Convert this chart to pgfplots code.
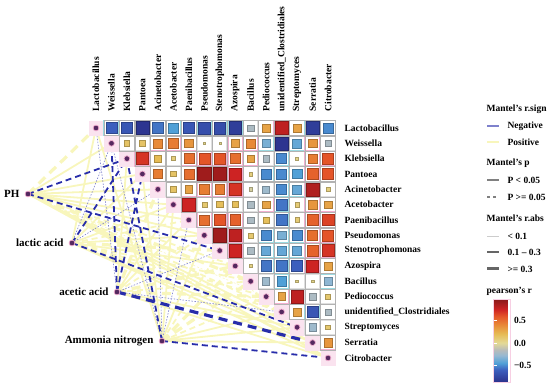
\documentclass[border=0pt]{standalone}
\usepackage{pgfplots}
\pgfplotsset{compat=1.18}
\usepackage{pgfplotstable}
\usepackage{fontspec}
\setmainfont{Liberation Serif}
\usetikzlibrary{calc}

\definecolor{yel}{RGB}{248,246,188}
\definecolor{blu}{RGB}{40,45,170}
\definecolor{pinkF}{RGB}{242,175,208}
\definecolor{cyanF}{RGB}{155,218,225}
\definecolor{dotc}{RGB}{85,40,95}
\newcommand{\lab}{\bfseries\fontsize{9.5}{11}\selectfont}
\newcommand{\envlab}{\bfseries\fontsize{11}{13}\selectfont}

\pgfplotstableread{
i j v k
0 1 -0.60 n
0 2 -0.65 n
0 3 -0.85 n
0 4 -0.55 n
0 5 -0.45 n
0 6 -0.65 n
0 7 -0.70 n
0 8 -0.70 n
0 9 -0.80 n
0 10 -0.20 z
0 11 0.30 p
0 12 0.80 p
0 13 0.30 p
0 14 -0.80 n
0 15 -0.50 n
1 2 0.15 z
1 3 0.15 z
1 4 0.40 p
1 5 0.45 p
1 6 0.35 p
1 7 0.03 z
1 8 0.02 z
1 9 0.30 p
1 10 0.40 p
1 11 -0.35 n
1 12 -0.85 n
1 13 -0.40 n
1 14 0.35 p
1 15 -0.20 z
2 3 0.70 p
2 4 0.20 z
2 5 0.08 z
2 6 0.50 p
2 7 0.60 p
2 8 0.60 p
2 9 0.50 p
2 10 0.30 p
2 11 -0.20 z
2 12 -0.50 n
2 13 0.04 z
2 14 0.45 p
2 15 0.60 p
3 4 0.45 p
3 5 0.15 z
3 6 0.50 p
3 7 0.90 p
3 8 0.90 p
3 9 0.75 p
3 10 0.07 z
3 11 -0.50 n
3 12 -0.50 n
3 13 -0.45 n
3 14 0.55 p
3 15 0.60 p
4 5 0.15 z
4 6 0.30 p
4 7 0.45 p
4 8 0.45 p
4 9 0.70 p
4 10 -0.05 z
4 11 -0.25 z
4 12 -0.50 n
4 13 -0.40 n
4 14 0.85 p
4 15 0.07 z
5 6 0.75 p
5 7 0.12 z
5 8 0.18 z
5 9 0.18 z
5 10 -0.20 z
5 11 0.30 p
5 12 -0.55 n
5 13 0.10 z
5 14 0.35 p
5 15 0.30 p
6 7 0.50 p
6 8 0.60 p
6 9 0.55 p
6 10 -0.20 z
6 11 0.18 z
6 12 -0.55 n
6 13 0.10 z
6 14 0.55 p
6 15 0.65 p
7 8 0.90 p
7 9 0.80 p
7 10 0.12 z
7 11 -0.50 n
7 12 -0.35 n
7 13 -0.50 n
7 14 0.50 p
7 15 0.60 p
8 9 0.75 p
8 10 -0.20 z
8 11 -0.40 n
8 12 -0.40 n
8 13 -0.40 n
8 14 0.55 p
8 15 0.70 p
9 10 0.05 z
9 11 -0.55 n
9 12 -0.55 n
9 13 -0.60 n
9 14 0.75 p
9 15 0.30 p
10 11 -0.25 z
10 12 -0.45 n
10 13 0.04 z
10 14 0.04 z
10 15 -0.30 n
11 12 0.30 p
11 13 0.80 p
11 14 -0.20 z
11 15 0.12 z
12 13 0.30 p
12 14 -0.65 n
12 15 -0.20 z
13 14 -0.25 z
13 15 0.12 z
14 15 0.35 p
}\heat

\pgfplotstableread{
k d
0 0
1 1
2 2
3 3
4 4
5 5
6 6
7 7
8 8
9 9
10 10
11 11
12 12
13 13
14 14
15 15
}\diag

\begin{document}
\begin{tikzpicture}
\begin{axis}[
  scale only axis, width=550pt, height=387pt,
  xmin=0, xmax=550, ymin=0, ymax=387, y dir=reverse,
  hide axis, clip=false, enlargelimits=false,
  unbounded coords=jump,
  colormap={rdyl}{rgb255(0pt)=(44,50,140); rgb255(27pt)=(60,95,190); rgb255(42pt)=(80,160,215); rgb255(59pt)=(150,185,210); rgb255(72pt)=(185,188,185); rgb255(87pt)=(228,218,150); rgb255(107pt)=(230,188,85); rgb255(127pt)=(232,138,55); rgb255(147pt)=(228,85,40); rgb255(162pt)=(205,35,35); rgb255(185pt)=(135,25,25)},
  point meta min=-0.87, point meta max=0.98,
  colorbar,
  colorbar style={
    at={($(parent axis.south west)+(485pt,5pt)$)}, anchor=south west,
    width=17pt, height=83pt,
    ytick={-0.5,0,0.5}, yticklabels={−0.5,0.0,0.5},
    yticklabel style={font=\lab},
    major tick length=3pt, tick style={white, line width=0.6pt},
    axis line style={draw=pinkF!60, line width=0.5pt},
  },
]
% invisible frame for bounding box
\addplot[draw=none] coordinates {(0,0) (550,387)};

% ---------- Mantel links ----------
% positive, medium, solid
\addplot[yel, line width=1.8pt] coordinates {
(28,194) (111.5,143.3) (nan,nan)
(28,194) (142.4,174.0) (nan,nan)
(28,194) (157.9,189.3) (nan,nan)
(28,194) (173.4,204.7) (nan,nan)
(28,194) (188.8,220.0) (nan,nan)
(28,194) (204.3,235.3) (nan,nan)
(28,194) (297.1,327.3) (nan,nan)
(28,194) (312.6,342.6) (nan,nan)
(28,194) (328.1,357.9) (nan,nan)
(72,243) (96,128) (nan,nan)
(72,243) (142.4,174.0) (nan,nan)
(72,243) (173.4,204.7) (nan,nan)
(72,243) (204.3,235.3) (nan,nan)
(72,243) (235.2,266.0) (nan,nan)
(72,243) (312.6,342.6) (nan,nan)
(72,243) (328.1,357.9) (nan,nan)
(117,292) (126.9,158.7) (nan,nan)
(117,292) (173.4,204.7) (nan,nan)
(117,292) (188.8,220.0) (nan,nan)
(117,292) (297.1,327.3) (nan,nan)
(117,292) (328.1,357.9) (nan,nan)
(162,341) (96,128) (nan,nan)
(162,341) (142.4,174.0) (nan,nan)
(162,341) (173.4,204.7) (nan,nan)
(162,341) (204.3,235.3) (nan,nan)
(162,341) (281.6,312.0) (nan,nan)
(162,341) (297.1,327.3) (nan,nan)
(162,341) (312.6,342.6)
};
% positive, thick, dashed
\addplot[yel, line width=3.2pt, dash pattern=on 9pt off 6pt] coordinates {
(28,194) (96,128) (nan,nan)
(28,194) (250.7,281.3) (nan,nan)
(72,243) (219.8,250.6) (nan,nan)
(117,292) (157.9,189.3) (nan,nan)
(117,292) (235.2,266.0) (nan,nan)
(117,292) (266.2,296.6) (nan,nan)
(162,341) (235.2,266.0) (nan,nan)
(162,341) (250.7,281.3)
};
% positive, medium, dashed
\addplot[yel, line width=1.8pt, dash pattern=on 6pt off 4pt] coordinates {
(28,194) (235.2,266.0) (nan,nan)
(28,194) (281.6,312.0) (nan,nan)
(72,243) (188.8,220.0) (nan,nan)
(72,243) (250.7,281.3) (nan,nan)
(72,243) (266.2,296.6) (nan,nan)
(72,243) (281.6,312.0) (nan,nan)
(117,292) (204.3,235.3) (nan,nan)
(117,292) (250.7,281.3) (nan,nan)
(162,341) (219.8,250.6) (nan,nan)
(162,341) (266.2,296.6)
};
% positive, thin, dashed
\addplot[yel, line width=0.6pt, dash pattern=on 2pt off 2pt] coordinates {
(28,194) (266.2,296.6)
};
% negative, thin, dashed
\addplot[blu!60, line width=0.6pt, dash pattern=on 1.5pt off 1.5pt] coordinates {
(72,243) (111.5,143.3) (nan,nan)
(72,243) (157.9,189.3) (nan,nan)
(117,292) (96,128) (nan,nan)
(117,292) (219.8,250.6) (nan,nan)
(117,292) (281.6,312.0) (nan,nan)
(162,341) (111.5,143.3) (nan,nan)
(162,341) (157.9,189.3) (nan,nan)
(162,341) (188.8,220.0)
};
% negative, medium, dashed
\addplot[blu, line width=1.8pt, dash pattern=on 6pt off 4pt] coordinates {
(28,194) (126.9,158.7) (nan,nan)
(28,194) (219.8,250.6) (nan,nan)
(72,243) (126.9,158.7) (nan,nan)
(72,243) (297.1,327.3) (nan,nan)
(117,292) (111.5,143.3) (nan,nan)
(117,292) (142.4,174.0) (nan,nan)
(162,341) (126.9,158.7) (nan,nan)
(162,341) (328.1,357.9)
};
% negative, thick, dashed
\addplot[blu, line width=3.2pt, dash pattern=on 9pt off 6pt] coordinates {
(117,292) (312.6,342.6)
};

% ---------- correlation heatmap ----------
% pink halo on the diagonal
\addplot[only marks, mark=square*, mark size=7.4,
  mark options={fill=pinkF!35, draw=pinkF!35, line width=0.1pt}]
  table[x expr=96+15.47*\thisrow{k}, y expr=128+15.33*\thisrow{d}] {\diag};
% coloured glow of the cell frames
\addplot[scatter, only marks, scatter src=explicit symbolic,
  mark size=7.4, mark options={line width=1.4pt},
  scatter/classes={p={mark=square,draw=pinkF,color=pinkF},
                   n={mark=square,draw=cyanF,color=cyanF},
                   z={mark=square,draw=gray!25,color=gray!25}}]
  table[x expr=96+15.47*\thisrow{j}, y expr=128+15.33*\thisrow{i}, meta=k] {\heat};
% grey cell frames
\addplot[only marks, gray!60, mark=square, mark size=7.6,
  mark options={draw=gray!60, line width=0.4pt}]
  table[x expr=96+15.47*\thisrow{j}, y expr=128+15.33*\thisrow{i}] {\heat};
% coloured squares
\addplot[scatter, only marks, mark=square*, point meta=explicit,
  scatter/use mapped color={draw=mapped color!75!black, fill=mapped color},
  mark options={line width=0.5pt},
  visualization depends on={7.1*sqrt(abs(\thisrow{v})) \as \ms},
  scatter/@pre marker code/.append style={/tikz/mark size=\ms}]
  table[x expr=96+15.47*\thisrow{j}, y expr=128+15.33*\thisrow{i}, meta=v] {\heat};

% diagonal dots
\addplot[only marks, mark=*, mark size=2.9, mark options={fill=dotc, draw=pinkF, line width=0.7pt}]
  table[x expr=96+15.47*\thisrow{k}, y expr=128+15.33*\thisrow{d}] {\diag};
% environment dots
\addplot[only marks, mark=*, mark size=2.9, mark options={fill=dotc, draw=pinkF, line width=0.7pt}]
  coordinates {(28,194) (72,243) (117,292) (162,341)};

% ---------- labels ----------
\node[anchor=east, font=\envlab] at (axis cs:23,194) {PH};
\node[anchor=east, font=\envlab] at (axis cs:67,243) {lactic acid};
\node[anchor=east, font=\envlab] at (axis cs:112,292) {acetic acid};
\node[anchor=east, font=\envlab] at (axis cs:157,341) {Ammonia nitrogen};

\node[anchor=west, font=\lab] at (axis cs:341,128.0) {Lactobacillus};
\node[anchor=west, font=\lab] at (axis cs:341,143.3) {Weissella};
\node[anchor=west, font=\lab] at (axis cs:341,158.7) {Klebsiella};
\node[anchor=west, font=\lab] at (axis cs:341,174.0) {Pantoea};
\node[anchor=west, font=\lab] at (axis cs:341,189.3) {Acinetobacter};
\node[anchor=west, font=\lab] at (axis cs:341,204.7) {Acetobacter};
\node[anchor=west, font=\lab] at (axis cs:341,220.0) {Paenibacillus};
\node[anchor=west, font=\lab] at (axis cs:341,235.3) {Pseudomonas};
\node[anchor=west, font=\lab] at (axis cs:341,250.6) {Stenotrophomonas};
\node[anchor=west, font=\lab] at (axis cs:341,266.0) {Azospira};
\node[anchor=west, font=\lab] at (axis cs:341,281.3) {Bacillus};
\node[anchor=west, font=\lab] at (axis cs:341,296.6) {Pediococcus};
\node[anchor=west, font=\lab] at (axis cs:341,312.0) {unidentified\_Clostridiales};
\node[anchor=west, font=\lab] at (axis cs:341,327.3) {Streptomyces};
\node[anchor=west, font=\lab] at (axis cs:341,342.6) {Serratia};
\node[anchor=west, font=\lab] at (axis cs:341,357.9) {Citrobacter};

\node[rotate=90, anchor=west, font=\lab] at (axis cs:96.0,115) {Lactobacillus};
\node[rotate=90, anchor=west, font=\lab] at (axis cs:111.5,115) {Weissella};
\node[rotate=90, anchor=west, font=\lab] at (axis cs:126.9,115) {Klebsiella};
\node[rotate=90, anchor=west, font=\lab] at (axis cs:142.4,115) {Pantoea};
\node[rotate=90, anchor=west, font=\lab] at (axis cs:157.9,115) {Acinetobacter};
\node[rotate=90, anchor=west, font=\lab] at (axis cs:173.4,115) {Acetobacter};
\node[rotate=90, anchor=west, font=\lab] at (axis cs:188.8,115) {Paenibacillus};
\node[rotate=90, anchor=west, font=\lab] at (axis cs:204.3,115) {Pseudomonas};
\node[rotate=90, anchor=west, font=\lab] at (axis cs:219.8,115) {Stenotrophomonas};
\node[rotate=90, anchor=west, font=\lab] at (axis cs:235.2,115) {Azospira};
\node[rotate=90, anchor=west, font=\lab] at (axis cs:250.7,115) {Bacillus};
\node[rotate=90, anchor=west, font=\lab] at (axis cs:266.2,115) {Pediococcus};
\node[rotate=90, anchor=west, font=\lab] at (axis cs:281.6,115) {unidentified\_Clostridiales};
\node[rotate=90, anchor=west, font=\lab] at (axis cs:297.1,115) {Streptomyces};
\node[rotate=90, anchor=west, font=\lab] at (axis cs:312.6,115) {Serratia};
\node[rotate=90, anchor=west, font=\lab] at (axis cs:328.1,115) {Citrobacter};

% ---------- legend ----------
\node[anchor=west, font=\lab] at (axis cs:483,109) {Mantel's r.sign};
\addplot[blu!60, line width=1.2pt] coordinates {(487,126) (499,126)};
\node[anchor=west, font=\lab] at (axis cs:504,126) {Negative};
\addplot[yel, line width=1.2pt] coordinates {(487,142) (499,142)};
\node[anchor=west, font=\lab] at (axis cs:504,142) {Positive};

\node[anchor=west, font=\lab] at (axis cs:483,163) {Mantel's p};
\addplot[gray, line width=1.2pt] coordinates {(487,180) (499,180)};
\node[anchor=west, font=\lab] at (axis cs:504,180) {P < 0.05};
\addplot[gray, line width=1.2pt, dash pattern=on 3pt off 3pt] coordinates {(487,197) (499,197)};
\node[anchor=west, font=\lab] at (axis cs:504,197) {P >= 0.05};

\node[anchor=west, font=\lab] at (axis cs:483,218) {Mantel's r.abs};
\addplot[gray!40, line width=0.8pt] coordinates {(487,236) (499,236)};
\node[anchor=west, font=\lab] at (axis cs:504,236) {< 0.1};
\addplot[gray!80!black, line width=1.5pt] coordinates {(487,252) (499,252)};
\node[anchor=west, font=\lab] at (axis cs:504,252) {0.1 -- 0.3};
\addplot[gray!80!black, line width=3pt] coordinates {(487,269) (499,269)};
\node[anchor=west, font=\lab] at (axis cs:504,269) {>= 0.3};

\node[anchor=west, font=\lab] at (axis cs:483,291) {pearson's r};
\end{axis}
\end{tikzpicture}
\end{document}
